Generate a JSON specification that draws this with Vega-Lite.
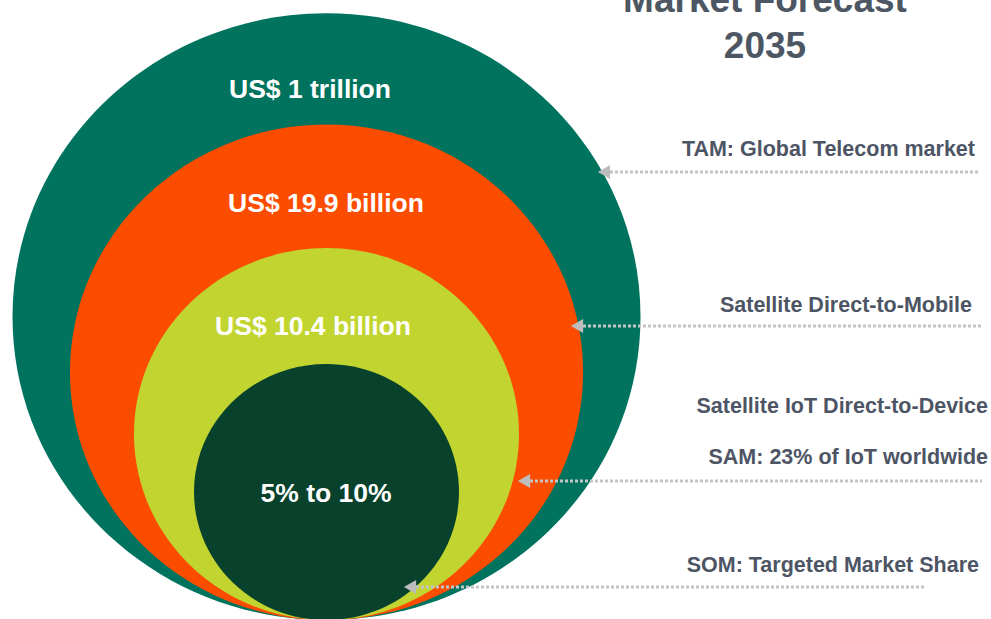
{
  "$schema": "https://vega.github.io/schema/vega-lite/v6.json",
  "width": 991,
  "height": 619,
  "autosize": {"type": "none"},
  "padding": 0,
  "background": "white",
  "config": {"view": {"stroke": null}},
  "data": {
    "values": [
      {"segment": "TAM", "market": "US$ 1 trillion", "note": "TAM: Global Telecom market"},
      {"segment": "Direct-to-Mobile", "market": "US$ 19.9 billion", "note": "Satellite Direct-to-Mobile"},
      {"segment": "SAM", "market": "US$ 10.4 billion", "note": "Satellite IoT Direct-to-Device\nSAM: 23% of IoT worldwide"},
      {"segment": "SOM", "market": "5% to 10%", "note": "SOM: Targeted Market Share"}
    ]
  },
  "layer": [
    {
      "transform": [{"filter": "datum.segment === 'TAM'"}],
      "mark": {"type": "point", "shape": "M 0 0 C 0.5523 0 1 -0.4325 1 -0.966 C 1 -1.4995 0.5523 -1.932 0 -1.932 C -0.5523 -1.932 -1 -1.4995 -1 -0.966 C -1 -0.4325 -0.5523 0 0 0 Z", "filled": true, "opacity": 1, "strokeWidth": 0, "color": "#00735E", "size": 394384},
      "encoding": {
        "x": {"datum": 326.5, "type": "quantitative", "scale": {"domain": [0, 991], "nice": false, "zero": false}, "axis": null},
        "y": {"datum": 620, "type": "quantitative", "scale": {"domain": [619, 0], "nice": false, "zero": false}, "axis": null}
      }
    },
    {
      "transform": [{"filter": "datum.segment === 'Direct-to-Mobile'"}],
      "mark": {"type": "point", "shape": "M 0 0 C 0.5523 0 1 -0.4325 1 -0.966 C 1 -1.4995 0.5523 -1.932 0 -1.932 C -0.5523 -1.932 -1 -1.4995 -1 -0.966 C -1 -0.4325 -0.5523 0 0 0 Z", "filled": true, "opacity": 1, "strokeWidth": 0, "color": "#FC4C00", "size": 263169},
      "encoding": {
        "x": {"datum": 326.5, "type": "quantitative", "axis": null},
        "y": {"datum": 620, "type": "quantitative", "axis": null}
      }
    },
    {
      "transform": [{"filter": "datum.segment === 'SAM'"}],
      "mark": {"type": "point", "shape": "M 0 0 C 0.5523 0 1 -0.4325 1 -0.966 C 1 -1.4995 0.5523 -1.932 0 -1.932 C -0.5523 -1.932 -1 -1.4995 -1 -0.966 C -1 -0.4325 -0.5523 0 0 0 Z", "filled": true, "opacity": 1, "strokeWidth": 0, "color": "#C1D430", "size": 148225},
      "encoding": {
        "x": {"datum": 326.5, "type": "quantitative", "axis": null},
        "y": {"datum": 620, "type": "quantitative", "axis": null}
      }
    },
    {
      "transform": [{"filter": "datum.segment === 'SOM'"}],
      "mark": {"type": "point", "shape": "M 0 0 C 0.5523 0 1 -0.4325 1 -0.966 C 1 -1.4995 0.5523 -1.932 0 -1.932 C -0.5523 -1.932 -1 -1.4995 -1 -0.966 C -1 -0.4325 -0.5523 0 0 0 Z", "filled": true, "opacity": 1, "strokeWidth": 0, "color": "#08412C", "size": 70225},
      "encoding": {
        "x": {"datum": 326.5, "type": "quantitative", "axis": null},
        "y": {"datum": 620, "type": "quantitative", "axis": null}
      }
    },
    {
      "transform": [{"filter": "datum.segment === 'TAM'"}],
      "mark": {"type": "text", "font": "Liberation Sans", "fontWeight": "bold", "fontSize": 26.5, "color": "#ffffff", "align": "center", "baseline": "middle"},
      "encoding": {
        "x": {"datum": 310, "type": "quantitative", "axis": null},
        "y": {"datum": 90, "type": "quantitative", "axis": null},
        "text": {"field": "market"}
      }
    },
    {
      "transform": [{"filter": "datum.segment === 'Direct-to-Mobile'"}],
      "mark": {"type": "text", "font": "Liberation Sans", "fontWeight": "bold", "fontSize": 26.5, "color": "#ffffff", "align": "center", "baseline": "middle"},
      "encoding": {
        "x": {"datum": 326, "type": "quantitative", "axis": null},
        "y": {"datum": 204, "type": "quantitative", "axis": null},
        "text": {"field": "market"}
      }
    },
    {
      "transform": [{"filter": "datum.segment === 'SAM'"}],
      "mark": {"type": "text", "font": "Liberation Sans", "fontWeight": "bold", "fontSize": 26.5, "color": "#ffffff", "align": "center", "baseline": "middle"},
      "encoding": {
        "x": {"datum": 313, "type": "quantitative", "axis": null},
        "y": {"datum": 327, "type": "quantitative", "axis": null},
        "text": {"field": "market"}
      }
    },
    {
      "transform": [{"filter": "datum.segment === 'SOM'"}],
      "mark": {"type": "text", "font": "Liberation Sans", "fontWeight": "bold", "fontSize": 26.5, "color": "#ffffff", "align": "center", "baseline": "middle"},
      "encoding": {
        "x": {"datum": 326, "type": "quantitative", "axis": null},
        "y": {"datum": 494, "type": "quantitative", "axis": null},
        "text": {"field": "market"}
      }
    },
    {
      "transform": [{"filter": "datum.segment === 'TAM'"}],
      "mark": {"type": "text", "font": "Liberation Sans", "fontWeight": "bold", "fontSize": 21.5, "color": "#4D5565", "align": "right", "baseline": "middle"},
      "encoding": {
        "x": {"datum": 975, "type": "quantitative", "axis": null},
        "y": {"datum": 150, "type": "quantitative", "axis": null},
        "text": {"field": "note"}
      }
    },
    {
      "transform": [{"filter": "datum.segment === 'Direct-to-Mobile'"}],
      "mark": {"type": "text", "font": "Liberation Sans", "fontWeight": "bold", "fontSize": 21.5, "color": "#4D5565", "align": "right", "baseline": "middle"},
      "encoding": {
        "x": {"datum": 972, "type": "quantitative", "axis": null},
        "y": {"datum": 306, "type": "quantitative", "axis": null},
        "text": {"field": "note"}
      }
    },
    {
      "transform": [{"filter": "datum.segment === 'SAM'"}],
      "mark": {"type": "text", "font": "Liberation Sans", "fontWeight": "bold", "fontSize": 21.5, "color": "#4D5565", "align": "right", "baseline": "middle", "lineBreak": "\n", "lineHeight": 51},
      "encoding": {
        "x": {"datum": 988, "type": "quantitative", "axis": null},
        "y": {"datum": 407, "type": "quantitative", "axis": null},
        "text": {"field": "note"}
      }
    },
    {
      "transform": [{"filter": "datum.segment === 'SOM'"}],
      "mark": {"type": "text", "font": "Liberation Sans", "fontWeight": "bold", "fontSize": 21.5, "color": "#4D5565", "align": "right", "baseline": "middle"},
      "encoding": {
        "x": {"datum": 979, "type": "quantitative", "axis": null},
        "y": {"datum": 566, "type": "quantitative", "axis": null},
        "text": {"field": "note"}
      }
    },
    {
      "transform": [{"filter": "datum.segment === 'TAM'"}],
      "mark": {"type": "rule", "color": "#C4C4C4", "strokeWidth": 3, "strokeDash": [3, 2]},
      "encoding": {
        "x": {"datum": 610, "type": "quantitative", "axis": null},
        "x2": {"datum": 980},
        "y": {"datum": 172, "type": "quantitative", "axis": null}
      }
    },
    {
      "transform": [{"filter": "datum.segment === 'Direct-to-Mobile'"}],
      "mark": {"type": "rule", "color": "#C4C4C4", "strokeWidth": 3, "strokeDash": [3, 2]},
      "encoding": {
        "x": {"datum": 583, "type": "quantitative", "axis": null},
        "x2": {"datum": 983},
        "y": {"datum": 326, "type": "quantitative", "axis": null}
      }
    },
    {
      "transform": [{"filter": "datum.segment === 'SAM'"}],
      "mark": {"type": "rule", "color": "#C4C4C4", "strokeWidth": 3, "strokeDash": [3, 2]},
      "encoding": {
        "x": {"datum": 530, "type": "quantitative", "axis": null},
        "x2": {"datum": 982},
        "y": {"datum": 481, "type": "quantitative", "axis": null}
      }
    },
    {
      "transform": [{"filter": "datum.segment === 'SOM'"}],
      "mark": {"type": "rule", "color": "#C4C4C4", "strokeWidth": 3, "strokeDash": [3, 2]},
      "encoding": {
        "x": {"datum": 416, "type": "quantitative", "axis": null},
        "x2": {"datum": 926},
        "y": {"datum": 587, "type": "quantitative", "axis": null}
      }
    },
    {
      "transform": [{"filter": "datum.segment === 'TAM'"}],
      "mark": {"type": "point", "shape": "triangle-left", "filled": true, "opacity": 1, "strokeWidth": 0, "color": "#BDBDBD", "size": 200},
      "encoding": {
        "x": {"datum": 604, "type": "quantitative", "axis": null},
        "y": {"datum": 172, "type": "quantitative", "axis": null}
      }
    },
    {
      "transform": [{"filter": "datum.segment === 'Direct-to-Mobile'"}],
      "mark": {"type": "point", "shape": "triangle-left", "filled": true, "opacity": 1, "strokeWidth": 0, "color": "#BDBDBD", "size": 200},
      "encoding": {
        "x": {"datum": 577, "type": "quantitative", "axis": null},
        "y": {"datum": 326, "type": "quantitative", "axis": null}
      }
    },
    {
      "transform": [{"filter": "datum.segment === 'SAM'"}],
      "mark": {"type": "point", "shape": "triangle-left", "filled": true, "opacity": 1, "strokeWidth": 0, "color": "#BDBDBD", "size": 200},
      "encoding": {
        "x": {"datum": 524, "type": "quantitative", "axis": null},
        "y": {"datum": 481, "type": "quantitative", "axis": null}
      }
    },
    {
      "transform": [{"filter": "datum.segment === 'SOM'"}],
      "mark": {"type": "point", "shape": "triangle-left", "filled": true, "opacity": 1, "strokeWidth": 0, "color": "#BDBDBD", "size": 200},
      "encoding": {
        "x": {"datum": 410, "type": "quantitative", "axis": null},
        "y": {"datum": 587, "type": "quantitative", "axis": null}
      }
    },
    {
      "transform": [{"filter": "datum.segment === 'TAM'"}],
      "mark": {"type": "text", "font": "Liberation Sans", "fontWeight": "bold", "fontSize": 37, "color": "#4D5663", "align": "center", "baseline": "alphabetic", "lineHeight": 46},
      "encoding": {
        "x": {"datum": 765, "type": "quantitative", "axis": null},
        "y": {"datum": 12, "type": "quantitative", "axis": null},
        "text": {"value": ["Market Forecast", "2035"]}
      }
    }
  ]
}
